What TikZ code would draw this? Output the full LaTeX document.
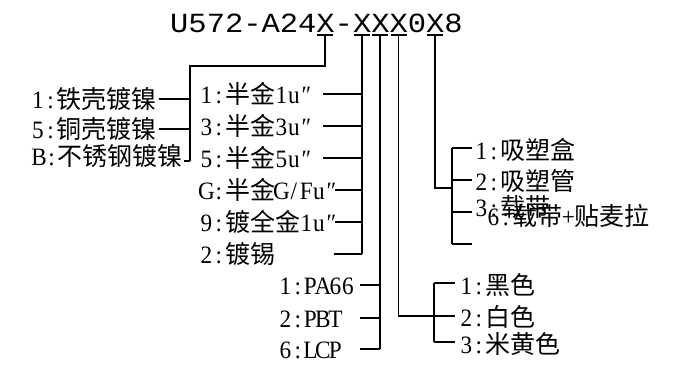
\documentclass[tikz,border=0pt]{standalone}
\usepackage{fontspec}
\setmainfont{Liberation Serif}
\newfontfamily\cjkfont{Noto Sans CJK SC}
\newfontfamily\codefont[FakeStretch=1.1]{Liberation Mono}
\newfontfamily\hwfont[FakeStretch=0.93]{Liberation Serif}
\newcommand\zh[1]{{\cjkfont #1}}
\makeatletter
\newcommand\hw[1]{\hw@loop#1\relax}
\def\hw@loop#1{\ifx\relax#1\else\makebox[.5em][c]{\hwfont #1}\expandafter\hw@loop\fi}
\makeatother
\tikzset{
  codetext/.style={font=\codefont\fontsize{27.7}{30}\selectfont, inner sep=0, anchor=base west},
  lbl/.style={font=\fontsize{25}{30}\selectfont, inner sep=0, text height=22pt, text depth=3pt},
  conn/.style={line width=1.8pt},
  uline/.style={line width=1.4pt}
}
\begin{document}
\begin{tikzpicture}[x=1pt,y=-1pt]
\useasboundingbox[fill=white] (0,0) rectangle (675,366);
\node[codetext] (code) at (170,33) {U572-A24X-XXX0X8};
\foreach \i/\n in {8/a,10/b,11/c,12/d,14/e}{
  \coordinate (x\n) at ({170+(\i+0.5)*18.28},35);
  \draw[uline] ([xshift=-8pt]x\n) -- ([xshift=8pt]x\n);
}
% group A: shell
\coordinate (abus) at (190,66);
\coordinate (aend) at (190,161);
\draw[conn] (xa) |- (abus) -- (aend);
\node[lbl,anchor=east] (l1) at (157,99) {\hw{1:}\zh{铁壳镀镍}};
\node[lbl,anchor=east] (l2) at (157,129) {\hw{5:}\zh{铜壳镀镍}};
\node[lbl,anchor=east] (l3) at (183,156) {\hw{B:}\zh{不锈钢镀镍}};
\draw[conn] ([xshift=2pt]l1.east) -- (l1.east -| abus);
\draw[conn] ([xshift=2pt]l2.east) -- (l2.east -| abus);
\coordinate (l3s) at (184,161);
\draw[conn] (l3s) -- (aend);
% group B: plating
\node[lbl,anchor=west] (m1) at (200,94) {\hw{1:}\zh{半金}\hw{1u″}};
\node[lbl,anchor=west] (m2) at (200,126) {\hw{3:}\zh{半金}\hw{3u″}};
\node[lbl,anchor=west] (m3) at (200,158) {\hw{5:}\zh{半金}\hw{5u″}};
\node[lbl,anchor=west] (m4) at (200,190) {\hw{G:}\zh{半金}\hw{G/Fu″}};
\node[lbl,anchor=west] (m5) at (200,222) {\hw{9:}\zh{镀全金}\hw{1u″}};
\node[lbl,anchor=west] (m6) at (200,254) {\hw{2:}\zh{镀锡}};
\coordinate (ms1) at (323,94);
\coordinate (ms2) at (323,126);
\coordinate (ms3) at (323,158);
\coordinate (ms4) at (335,190);
\coordinate (ms5) at (335,222);
\coordinate (ms6) at (334,254);
\draw[conn] (xb) -- (xb |- ms6);
\foreach \j in {1,...,6} \draw[conn] (ms\j) -- (ms\j -| xb);
% group C: material
\node[lbl,anchor=west] (b1) at (279,285) {\hw{1:PA66}};
\node[lbl,anchor=west] (b2) at (279,318) {\hw{2:PBT}};
\node[lbl,anchor=west] (b3) at (279,349) {\hw{6:LCP}};
\coordinate (bs1) at (360,285);
\coordinate (bs2) at (360,318);
\coordinate (bs3) at (360,349);
\draw[conn] (xc) -- (xc |- bs3);
\foreach \j in {1,2,3} \draw[conn] (bs\j) -- (bs\j -| xc);
% group D: colour
\coordinate (dturn) at (434,316);
\coordinate (dtop) at (434,283);
\coordinate (dbot) at (434,342);
\draw[conn] (xd) |- (dturn);
\draw[conn] (dtop) -- (dbot);
\node[lbl,anchor=west] (c1) at (460,285) {\hw{1:}\zh{黑色}};
\node[lbl,anchor=west] (c2) at (460,317) {\hw{2:}\zh{白色}};
\node[lbl,anchor=west] (c3) at (460,344) {\hw{3:}\zh{米黄色}};
\coordinate (cs1) at (455,283);
\coordinate (cs2) at (455,316);
\coordinate (cs3) at (455,342);
\draw[conn] (dtop) -- (cs1);
\draw[conn] (dturn) -- (cs2);
\draw[conn] (dbot) -- (cs3);
% group E: packing
\coordinate (eturn) at (452,188);
\coordinate (eb1) at (452,148);
\coordinate (eb2) at (452,180);
\coordinate (eb3) at (452,212);
\coordinate (eb4) at (452,244);
\draw[conn] (xe) |- (eturn);
\draw[conn] (eb1) -- (eb4);
\foreach \j in {1,...,4} \draw[conn] (eb\j) -- ++(20,0) coordinate (es\j);
\node[lbl,anchor=west] (r1) at (475,150) {\hw{1:}\zh{吸塑盒}};
\node[lbl,anchor=west] (r2) at (475,181) {\hw{2:}\zh{吸塑管}};
\node[lbl,anchor=west] (r3) at (475,207) {\hw{3:}\zh{载带}};
\node[lbl,anchor=west] (r4) at (487,216) {\hw{6:}\zh{载带}\hw{+}\zh{贴麦拉}};
\end{tikzpicture}
\end{document}
